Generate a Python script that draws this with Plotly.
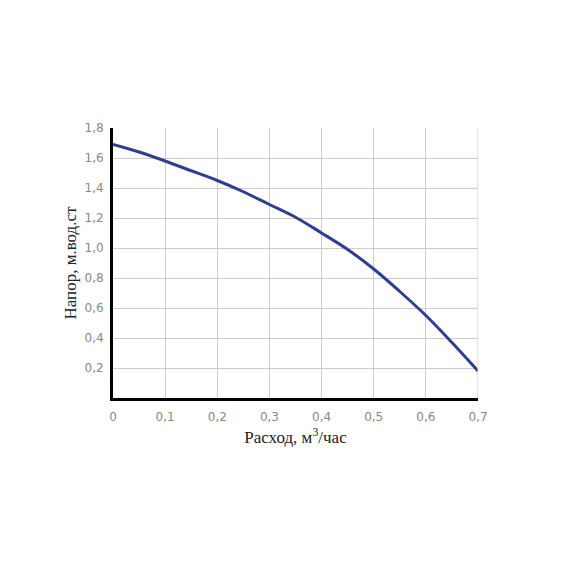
import plotly.graph_objects as go

# расход, м3/час и напор, м.вод.ст
flow = [0, 0.05, 0.1, 0.15, 0.2, 0.25, 0.3, 0.35, 0.4, 0.45, 0.5, 0.55, 0.6, 0.65, 0.7]
head = [1.69, 1.64, 1.58, 1.515, 1.45, 1.375, 1.29, 1.205, 1.10, 0.99, 0.86, 0.71, 0.55, 0.37, 0.18]

x_ticks = [0, 0.1, 0.2, 0.3, 0.4, 0.5, 0.6, 0.7]
x_labels = ["0", "0,1", "0,2", "0,3", "0,4", "0,5", "0,6", "0,7"]
y_ticks = [0.2, 0.4, 0.6, 0.8, 1.0, 1.2, 1.4, 1.6, 1.8]
y_labels = ["0,2", "0,4", "0,6", "0,8", "1,0", "1,2", "1,4", "1,6", "1,8"]

fig = go.Figure()
fig.add_trace(go.Scatter(
    x=flow, y=head, mode='lines', line=dict(color='#2e3f8f', width=3, shape='spline'),
    showlegend=False
))

tickfont = dict(family='DejaVu Sans', size=12, color='#888888')
fig.update_xaxes(
    range=[0, 0.7], tickvals=x_ticks, ticktext=x_labels, tickfont=tickfont,
    showgrid=True, gridcolor='#cccccc', gridwidth=1, zeroline=False,
    showline=True, linecolor='black', linewidth=3, mirror=False,
    ticks='outside', ticklen=6, tickcolor='rgba(0,0,0,0)',
    title=dict(text='Расход, м<sup>3</sup>/час', font=dict(family='Liberation Serif', size=17, color='#222222'), standoff=8)
)
fig.update_yaxes(
    range=[0, 1.8], tickvals=y_ticks, ticktext=y_labels, tickfont=tickfont,
    showgrid=True, gridcolor='#cccccc', gridwidth=1, zeroline=False,
    showline=True, linecolor='black', linewidth=3,
    ticks='outside', ticklen=4, tickcolor='rgba(0,0,0,0)',
    title=dict(text='Напор, м.вод.ст', font=dict(family='Liberation Serif', size=17, color='#222222'), standoff=4)
)
# правая рамка
fig.add_shape(type='line', xref='x', yref='paper', x0=0.7, x1=0.7, y0=0, y1=1,
              line=dict(color='#cccccc', width=1))
fig.update_layout(
    width=570, height=570, plot_bgcolor='white', paper_bgcolor='white',
    margin=dict(l=105, r=100, t=120, b=180)
)
fig.write_html("out.html")
